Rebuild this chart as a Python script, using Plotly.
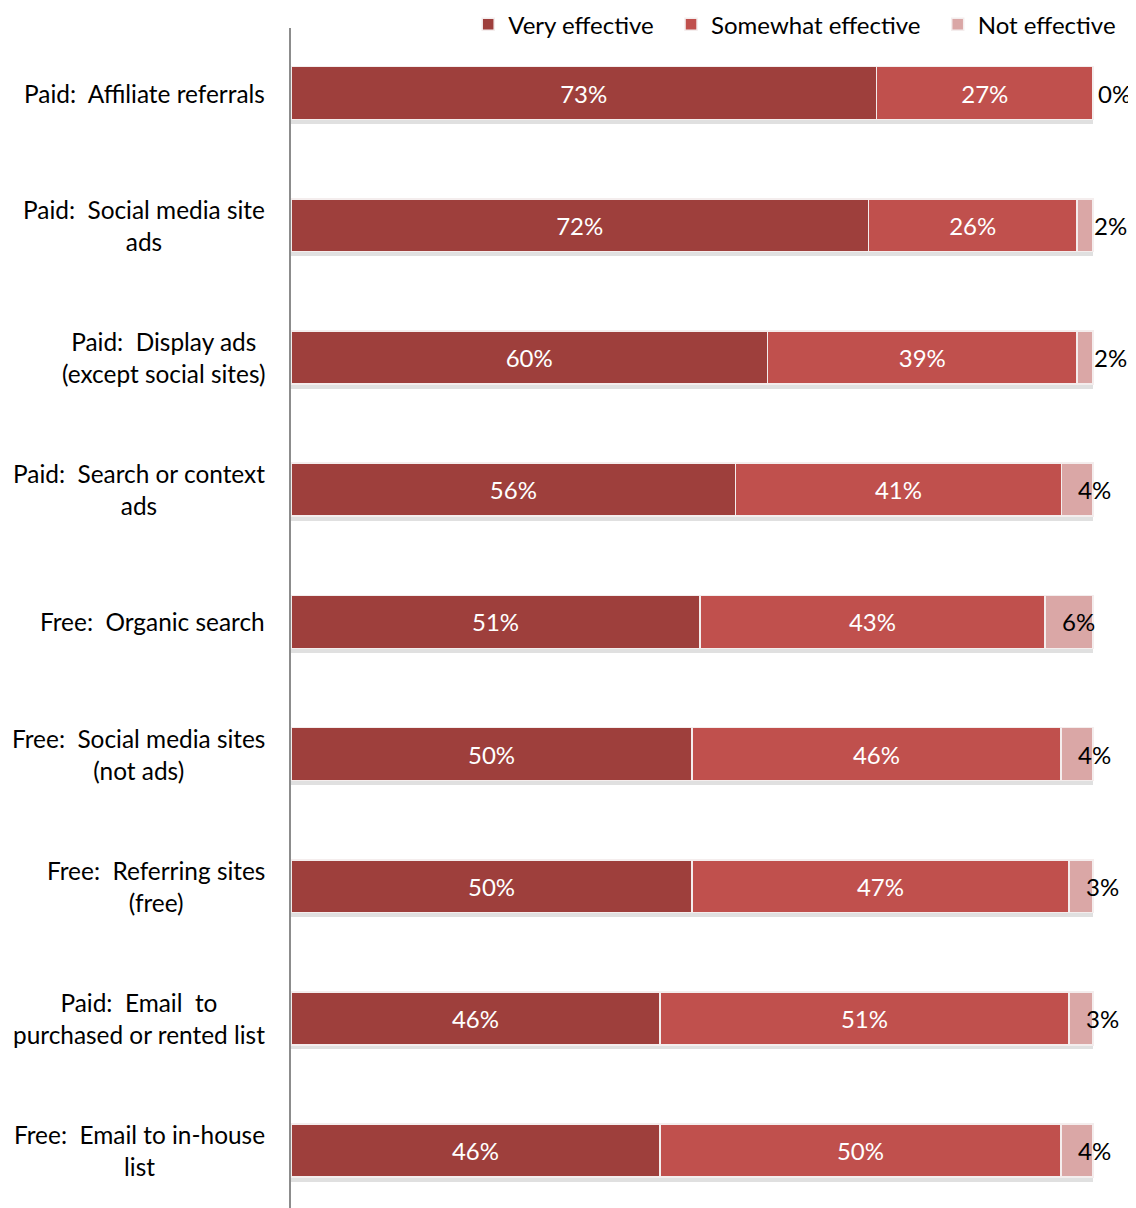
import plotly.graph_objects as go

categories = [
    "Paid:  Affiliate referrals",
    "Paid:  Social media site<br>ads",
    "Paid:  Display ads<br>(except social sites)",
    "Paid:  Search or context<br>ads",
    "Free:  Organic search",
    "Free:  Social media sites<br>(not ads)",
    "Free:  Referring sites<br>(free)",
    "Paid:  Email  to<br>purchased or rented list",
    "Free:  Email to in-house<br>list",
]
series_names = ["Very effective", "Somewhat effective", "Not effective"]
very_effective = [73, 72, 60, 56, 51, 50, 50, 46, 46]
somewhat_effective = [27, 26, 39, 41, 43, 46, 47, 51, 50]
not_effective = [0, 2, 2, 4, 6, 4, 3, 3, 4]

C_VERY = "#9E3F3C"
C_SOME = "#C0504D"
C_NOT = "#DAA7A6"
FONT = "Lato"
FS = 24
PAD = "\u00a0\u00a0"

ypos = list(range(len(categories)))
totals = [v + s + n for v, s, n in zip(very_effective, somewhat_effective, not_effective)]

fig = go.Figure()

# soft shadow beneath each bar (drawn on base axis, behind the bars)
fig.add_trace(go.Bar(
    y=ypos, x=[100] * len(ypos), orientation="h", yaxis="y", xaxis="x",
    marker=dict(color="rgba(0,0,0,0.12)", line=dict(width=0)),
    width=0.4, offset=-0.2 + 0.035, showlegend=False, hoverinfo="skip",
))

def add_series(vals, name, color, textcolor, show_text=True):
    fig.add_trace(go.Bar(
        y=ypos, x=vals, name=name, orientation="h", yaxis="y2", xaxis="x",
        marker=dict(color=color, line=dict(color="#F4EDED", width=1.5)),
        width=0.4,
        text=[f"{v}%" for v in vals] if show_text else None,
        textposition="inside" if show_text else "none",
        insidetextanchor="middle",
        textangle=0,
        textfont=dict(family=FONT, size=FS, color=textcolor),
        hoverinfo="skip",
    ))

add_series(very_effective, series_names[0] + PAD, C_VERY, "white")
add_series(somewhat_effective, series_names[1] + PAD, C_SOME, "white")
add_series(not_effective, series_names[2], C_NOT, "black", show_text=False)

annotations = []
for i, (v, s, n, t) in enumerate(zip(very_effective, somewhat_effective, not_effective, totals)):
    start = (v + s) / t * 100
    annotations.append(dict(
        x=start, y=i, xref="x", yref="y2", text=f"{n}%", showarrow=False,
        xanchor="left", xshift=15 if n > 0 else 3,
        font=dict(family=FONT, size=FS, color="black"),
    ))
    annotations.append(dict(
        x=0, y=i, xref="paper", yref="y2", text=categories[i], showarrow=False,
        xanchor="right", xshift=-24, align="center",
        font=dict(family=FONT, size=24.4, color="black"),
    ))

yrange = [8.434, -0.492]
fig.update_layout(
    width=1128, height=1200,
    margin=dict(l=283, r=0, t=20, b=0, autoexpand=False),
    plot_bgcolor="white", paper_bgcolor="white",
    barmode="stack", barnorm="percent",
    xaxis=dict(range=[0, 105.36], showgrid=False, zeroline=False, showticklabels=False,
               showline=False, fixedrange=True),
    yaxis=dict(range=yrange, showgrid=False, zeroline=False, showticklabels=False,
               showline=True, linecolor="#8C8C8C", linewidth=2, ticks=""),
    yaxis2=dict(range=yrange, overlaying="y", showgrid=False, zeroline=False,
                showticklabels=False, showline=False, ticks=""),
    legend=dict(orientation="h", x=0.2097, xanchor="left", y=1.0220, yanchor="top",
                font=dict(family=FONT, size=FS, color="black"), traceorder="normal",
                bgcolor="rgba(0,0,0,0)", itemwidth=30, tracegroupgap=0),
    annotations=annotations,
    font=dict(family=FONT, size=FS),
)

fig.write_html("out.html")
